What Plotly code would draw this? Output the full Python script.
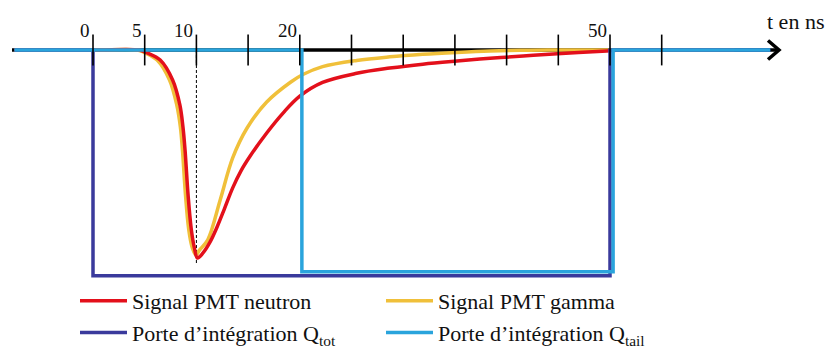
import plotly.graph_objects as go

# ---------------- data (time in ns, amplitude normalised, neutron peak = -1) -------------
t_neutron = [-7.6, 0, 4.5, 5.2, 6.5, 7.7, 8.4, 8.7, 8.9, 9.2, 9.5, 9.8, 10.1, 10.6, 11.3,
             12.0, 12.7, 13.5, 14.3, 15.2, 16.8, 18.4, 20.0, 22.2, 25.5, 28.7, 31.9,
             35.2, 38.4, 41.6, 44.9, 49.7, 51.0, 62.0]
a_neutron = [0, 0, 0, -0.013, -0.048, -0.144, -0.264, -0.370, -0.480, -0.700, -0.860,
             -0.950, -1.0, -0.978, -0.925, -0.851, -0.765, -0.664, -0.582, -0.510,
             -0.399, -0.302, -0.222, -0.156, -0.112, -0.087, -0.068, -0.053, -0.040,
             -0.029, -0.018, -0.005, 0, 0]

t_gamma = [-7.6, 0, 4.3, 5.0, 6.2, 7.4, 8.1, 8.45, 8.65, 8.95, 9.25, 9.6, 9.95, 10.3,
           11.1, 12.3, 13.5, 14.9, 16.8, 19.1, 20.3, 22.2, 25.5, 28.7, 31.9, 35.2, 38.4,
           41.3, 44.0, 62.0]
a_gamma = [0, 0, 0, -0.013, -0.048, -0.144, -0.264, -0.370, -0.480, -0.700, -0.860,
           -0.950, -0.986, -0.962, -0.913, -0.721, -0.520, -0.375, -0.250, -0.155,
           -0.118, -0.080, -0.050, -0.033, -0.021, -0.012, -0.005, -0.0015, 0, 0]

t_gate_tot = [-7.6, 0, 0, 50, 50, 65.5]
a_gate_tot = [0, 0, -1.085, -1.085, 0, 0]
t_gate_tail = [-7.6, 20.2, 20.2, 50.3, 50.3, 65.5]
a_gate_tail = [0, 0, -1.066, -1.066, 0, 0]

peak_time = 10
tick_values = [0, 5, 10, 15, 20, 25, 30, 35, 40, 45, 50, 55]
tick_labels = ["0", "5", "10", "", "20", "", "", "", "", "", "50", ""]

label_neutron = "Signal PMT neutron"
label_gamma = "Signal PMT gamma"
label_tot = "Porte d\u2019intégration Q<sub>tot</sub>"
label_tail = "Porte d\u2019intégration Q<sub>tail</sub>"
axis_title = "t en ns"

# ---------------- geometry helpers ----------------
W, H = 826, 350
PX_PER_NS = 10.34
X0_PX = 93          # pixel of t = 0
Y0_PX = 50          # pixel of baseline
PX_PER_UNIT = 208   # pixels per unit amplitude

def px_to_t(px):
    return (px - X0_PX) / PX_PER_NS

def py_to_a(py):
    return -(py - Y0_PX) / PX_PER_UNIT

RED = "#e3101b"
YELLOW = "#f0c03a"
DARK_BLUE = "#3a3a9c"
LIGHT_BLUE = "#2aa4dc"
SERIF = "Liberation Serif"

fig = go.Figure()

# dashed line at the peak
fig.add_trace(go.Scatter(x=[peak_time, peak_time], y=[0, min(a_neutron) - 0.03],
                         mode="lines", line=dict(color="black", width=1, dash="3px,2px"),
                         showlegend=False, hoverinfo="skip"))

fig.add_trace(go.Scatter(x=t_gamma, y=a_gamma, mode="lines", name=label_gamma,
                         line=dict(color=YELLOW, width=3.5, shape="spline", smoothing=1.0),
                         legend="legend2", legendgroup="g", legendrank=1))
fig.add_trace(go.Scatter(x=t_neutron, y=a_neutron, mode="lines", name=label_neutron,
                         line=dict(color=RED, width=3.5, shape="spline", smoothing=1.0),
                         legend="legend", legendgroup="n", legendrank=1))
fig.add_trace(go.Scatter(x=t_gate_tot, y=a_gate_tot, mode="lines", name=label_tot,
                         line=dict(color=DARK_BLUE, width=3.5),
                         legend="legend", legendgroup="tot", legendrank=2))
fig.add_trace(go.Scatter(x=t_gate_tail, y=a_gate_tail, mode="lines", name=label_tail,
                         line=dict(color=LIGHT_BLUE, width=3.5),
                         legend="legend2", legendgroup="tail", legendrank=2))

# tick marks crossing the time axis
fig.add_trace(go.Scatter(x=tick_values, y=[0] * len(tick_values), mode="markers",
                         marker=dict(symbol="line-ns", size=22,
                                     line=dict(color="black", width=1.6)),
                         showlegend=False, hoverinfo="skip"))

# time axis line + arrow head
fig.add_shape(type="line", x0=px_to_t(12), x1=px_to_t(778), y0=0, y1=0,
              line=dict(color="black", width=3.5), layer="below")
fig.add_shape(type="path",
              path=(f"M {px_to_t(768)},{py_to_a(40.5)} L {px_to_t(779)},{py_to_a(50)} "
                    f"L {px_to_t(768)},{py_to_a(59.5)}"),
              line=dict(color="black", width=3.5), layer="above")

# tick labels
for v, lab in zip(tick_values, tick_labels):
    if lab:
        fig.add_annotation(x=v, y=0, text=lab, showarrow=False, xanchor="right",
                           yanchor="bottom", xshift=-1, yshift=7,
                           font=dict(family=SERIF, size=19, color="#111"))

fig.add_annotation(x=1, y=1 - 22 / H, xref="paper", yref="paper", text=axis_title,
                   showarrow=False, xanchor="right", yanchor="middle",
                   font=dict(family=SERIF, size=22, color="#111"))

legend_common = dict(orientation="v", bgcolor="rgba(0,0,0,0)", traceorder="grouped",
                     tracegroupgap=0, yanchor="top", y=1 - 280 / H, itemwidth=47,
                     font=dict(family=SERIF, size=22, color="#111"))

fig.update_layout(
    width=W, height=H,
    font=dict(family=SERIF, size=18, color="#111"),
    margin=dict(l=0, r=0, t=0, b=0, autoexpand=False),
    paper_bgcolor="white", plot_bgcolor="white",
    xaxis=dict(range=[px_to_t(0), px_to_t(W)], visible=False, fixedrange=True),
    yaxis=dict(range=[py_to_a(H), py_to_a(0)], visible=False, fixedrange=True),
    legend=dict(x=75 / W, **legend_common),
    legend2=dict(x=381 / W, **legend_common),
)

fig.write_html("out.html", config={"displayModeBar": False},
               post_script="document.body.style.margin='0';")
